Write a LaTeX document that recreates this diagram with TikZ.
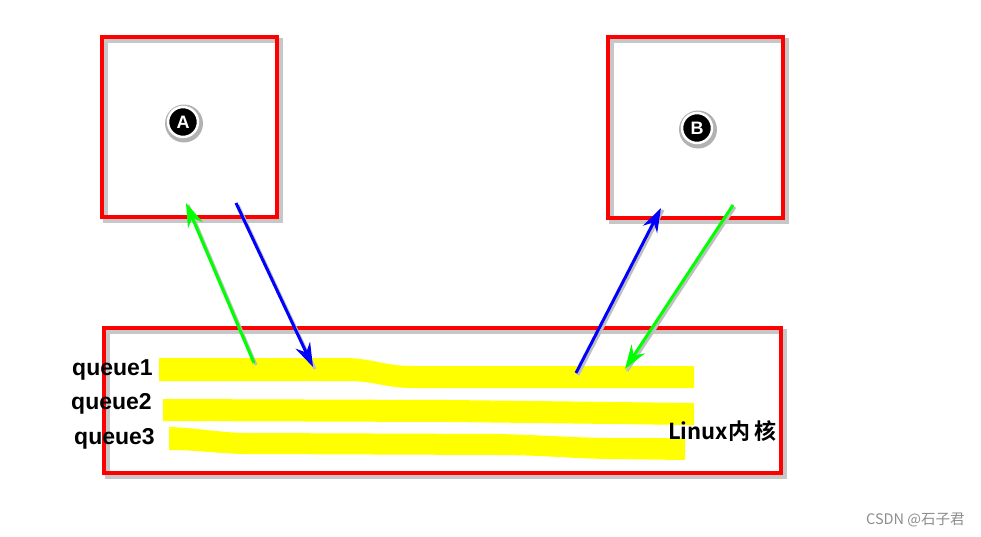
\documentclass[tikz,border=0pt]{standalone}
\usepackage{fontspec}
\setmainfont{Liberation Sans}
\newfontfamily\cjk{Noto Sans CJK SC}[BoldFont={Noto Sans CJK SC Bold}]
\usetikzlibrary{arrows.meta}
\definecolor{rred}{RGB}{255,0,0}
\definecolor{ggreen}{RGB}{0,255,0}
\definecolor{bblue}{RGB}{0,0,255}
\definecolor{yyellow}{RGB}{255,255,0}
\begin{document}
\begin{tikzpicture}[x=1pt,y=-1pt,
  redbox/.style={draw=rred,line width=4pt,inner sep=0pt},
  shadowbox/.style={draw=black!22,line width=5pt,inner sep=0pt},
  badge/.style={circle,fill=black,draw=white,line width=2.5pt,minimum size=30pt,
    inner sep=0pt,text=white,font=\bfseries\fontsize{18}{18}\selectfont},
  halo/.style={fill=black!30},
  band/.style={fill=yyellow,draw=none},
  qlabel/.style={anchor=west,inner sep=0pt,font=\bfseries\fontsize{23}{25}\selectfont},
  conn/.style={line width=3pt,-{Stealth[length=24pt,width=16pt,inset=8pt]}},
  connshadow/.style={line width=3pt,draw=black!25},
]
\useasboundingbox (0,0) rectangle (981,536);

% box shadows
\node[shadowbox,minimum width=175pt,minimum height=180pt] (sA) at (192.5,130) {};
\node[shadowbox,minimum width=175pt,minimum height=181pt] (sB) at (698.5,130.5) {};
\node[shadowbox,minimum width=677pt,minimum height=145pt] (sK) at (445.5,403.5) {};
% boxes
\node[redbox,minimum width=175pt,minimum height=180pt] (boxA) at (189.5,127) {};
\node[redbox,minimum width=175pt,minimum height=181pt] (boxB) at (695.5,127.5) {};
\node[redbox,minimum width=677pt,minimum height=145pt] (kernel) at (442.5,400.5) {};

% badges
\node[badge] (ca) at (183,122) {};
\node[badge] (cb) at (697,128) {};
\fill[halo] ([shift={(1pt,-1.5pt)}]ca.center) circle (19);
\fill[halo] ([shift={(1pt,-1.5pt)}]cb.center) circle (19);
\node[badge] at (ca) {A};
\node[badge] at (cb) {B};

% queue bands
\path[band] (159,358) -- (347,358) .. controls (375,359) and (385,366) .. (413,366)
  -- (694,366) -- (694,388) -- (413,388) .. controls (385,388) and (375,381) .. (347,381)
  -- (159,381) -- cycle;
\path[band] (163,399) -- (450,400) -- (694,403) -- (694,425) -- (450,422) -- (163,421) -- cycle;
\path[band] (169,427) .. controls (200,428) and (220,433) .. (250,433) -- (500,434)
  .. controls (540,435) and (580,438) .. (613,438) -- (685,438) -- (685,460)
  -- (613,459) .. controls (580,459) and (540,455) .. (500,455) -- (250,454)
  .. controls (220,454) and (200,450) .. (169,450) -- cycle;

% labels
\node[qlabel] (q1) at (72,370) {queue1};
\node[qlabel] (q2) at (71,404) {queue2};
\node[qlabel] (q3) at (74,439) {queue3};
\node[anchor=west,inner sep=0pt,font=\cjk\bfseries\fontsize{22}{24}\selectfont] (lk) at (668,431) {Linux内\hspace{4pt}核};

% arrow endpoints
\coordinate (gAs) at (254,363);
\coordinate (gAe) at (186,203);
\coordinate (bAs) at (236,203);
\coordinate (bAe) at (313,367);
\coordinate (bBs) at (576,373);
\coordinate (bBe) at (661,208);
\coordinate (gBs) at (733,205);
\coordinate (gBe) at (625,369);

\draw[connshadow] ([shift={(2pt,-2pt)}]gAs) -- ([shift={(2pt,-2pt)}]gAe);
\draw[connshadow] ([shift={(2pt,-2pt)}]bAs) -- ([shift={(2pt,-2pt)}]bAe);
\draw[connshadow] ([shift={(2pt,-2pt)}]bBs) -- ([shift={(2pt,-2pt)}]bBe);
\draw[connshadow] ([shift={(2pt,-2pt)}]gBs) -- ([shift={(2pt,-2pt)}]gBe);

\draw[conn,ggreen] (gAs) -- (gAe);
\draw[conn,bblue] (bAs) -- (bAe);
\draw[conn,bblue] (bBs) -- (bBe);
\draw[conn,ggreen] (gBs) -- (gBe);

% watermark
\node[anchor=west,inner sep=0pt,text=black!45,font=\cjk\fontsize{14.5}{16}\selectfont] (wm) at (866,520) {CSDN @石子君};
\end{tikzpicture}
\end{document}
